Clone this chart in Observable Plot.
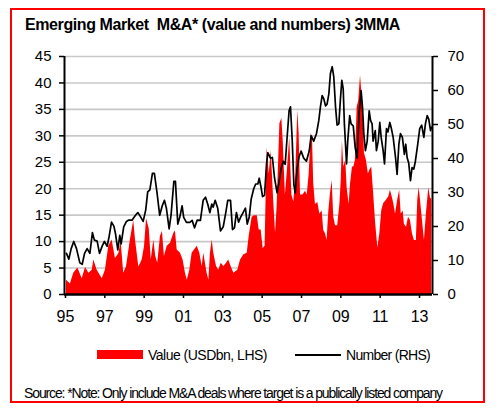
<!DOCTYPE html>
<html><head><meta charset="utf-8">
<script src="https://cdn.jsdelivr.net/npm/d3@7"></script>
<script src="https://cdn.jsdelivr.net/npm/@observablehq/plot@0.6"></script>
<style>
body{margin:0;background:#fff;font-family:"Liberation Sans",Arial,sans-serif;}
#wrap{position:relative;width:502px;height:415px;overflow:hidden;background:#fff;}
#box{position:absolute;left:10px;top:8px;width:471px;height:391px;border:2px solid #ff0000;}
.t{position:absolute;white-space:pre;line-height:1;color:#000;}
#chart{position:absolute;left:0;top:0;}
</style></head>
<body><div id="wrap">
<div id="box"></div>
<div id="chart"></div>
<div class="t" id="title" style="left:25px;top:17px;font-size:16px;font-weight:bold;"></div>
<div id="legRect" style="position:absolute;left:97px;top:350px;width:46px;height:9px;background:#ff0000;"></div>
<div class="t" id="leg1" style="left:148px;top:348px;font-size:14px;"></div>
<div id="legLine" style="position:absolute;left:295px;top:354px;width:46px;height:1.5px;background:#000;"></div>
<div class="t" id="leg2" style="left:346px;top:348px;font-size:14px;"></div>
<div class="t" id="source" style="left:24px;top:386px;font-size:14px;"></div>
</div>
<script>
const titleText = "Emerging Market  M&A* (value and numbers) 3MMA";
const legendValue = "Value (USDbn, LHS)";
const legendNumber = "Number (RHS)";
const sourceText = "Source: *Note: Only include M&A deals where target is a publically listed company";

const xTicks = [1995,1997,1999,2001,2003,2005,2007,2009,2011,2013];
const xTickLabels = ["95","97","99","01","03","05","07","09","11","13"];
const leftTicks = [0,5,10,15,20,25,30,35,40,45];
const rightTicks = [0,10,20,30,40,50,60,70];

const valueYears = [1995.05,1995.25,1995.42,1995.63,1995.85,1996.02,1996.19,1996.36,1996.44,1996.61,1996.87,1997.03,1997.20,1997.37,1997.54,1997.71,1997.83,1997.96,1998.10,1998.30,1998.47,1998.56,1998.73,1998.90,1999.02,1999.12,1999.26,1999.36,1999.49,1999.59,1999.69,1999.83,1999.93,2000.03,2000.17,2000.34,2000.51,2000.59,2000.68,2000.85,2000.98,2001.10,2001.19,2001.32,2001.44,2001.56,2001.70,2001.83,2001.95,2002.03,2002.20,2002.29,2002.37,2002.46,2002.54,2002.68,2002.79,2002.92,2003.05,2003.19,2003.30,2003.42,2003.56,2003.76,2003.90,2004.07,2004.24,2004.34,2004.49,2004.61,2004.75,2004.85,2004.95,2005.05,2005.15,2005.25,2005.36,2005.46,2005.59,2005.68,2005.76,2005.90,2006.00,2006.07,2006.18,2006.27,2006.40,2006.51,2006.61,2006.71,2006.81,2006.88,2006.95,2007.08,2007.20,2007.29,2007.39,2007.49,2007.56,2007.62,2007.71,2007.83,2007.93,2008.05,2008.13,2008.22,2008.30,2008.39,2008.47,2008.56,2008.64,2008.73,2008.84,2008.95,2009.02,2009.08,2009.15,2009.25,2009.32,2009.42,2009.49,2009.59,2009.66,2009.74,2009.83,2009.91,2010.00,2010.10,2010.20,2010.30,2010.40,2010.47,2010.57,2010.67,2010.76,2010.88,2010.98,2011.08,2011.18,2011.32,2011.44,2011.52,2011.61,2011.69,2011.78,2011.89,2011.99,2012.07,2012.17,2012.23,2012.34,2012.44,2012.54,2012.64,2012.74,2012.84,2012.91,2012.98,2013.05,2013.15,2013.25,2013.35,2013.47,2013.56,2013.62];
const valueUSDbn = [2.7,2.0,4.0,5.0,3.0,5.1,4.0,4.6,6.5,4.6,3.0,4.6,9.1,10.3,6.8,7.7,10.0,4.0,5.2,10.3,14.0,10.3,5.2,6.5,9.1,14.3,12.4,6.5,10.3,7.2,5.9,11.0,11.9,7.2,9.1,9.7,11.6,12.0,8.4,7.8,6.5,4.0,2.7,4.6,7.8,8.4,9.1,7.8,5.3,7.8,4.0,2.7,7.8,10.3,7.8,5.3,4.6,5.9,5.3,5.9,6.5,5.3,4.0,4.6,6.5,7.5,7.8,11.0,14.6,14.9,14.9,12.2,12.2,8.7,9.1,27.8,22.8,27.2,17.5,11.6,16.6,32.3,33.3,29.0,18.8,22.8,29.7,18.8,17.5,22.7,34.8,30.4,18.8,18.8,19.5,18.8,22.8,30.4,29.7,21.0,17.0,17.4,15.2,15.8,12.1,11.5,10.2,15.8,19.0,21.5,14.6,13.0,13.0,17.0,21.5,29.0,24.1,25.4,20.2,17.0,20.8,24.1,24.1,25.4,35.4,36.6,41.4,36.6,26.7,25.4,22.8,23.5,24.1,19.0,13.9,8.8,11.4,15.9,17.2,17.8,18.5,19.7,18.5,17.2,15.2,17.8,19.7,15.2,15.8,13.3,12.7,14.6,14.0,11.5,10.2,10.2,17.8,20.2,17.8,14.0,10.2,15.2,20.2,18.2,18.0];

const numberYears = [1995.05,1995.17,1995.29,1995.42,1995.56,1995.73,1995.85,1995.97,1996.10,1996.24,1996.37,1996.47,1996.61,1996.73,1996.87,1996.98,1997.12,1997.22,1997.34,1997.46,1997.54,1997.66,1997.76,1997.83,1997.96,1998.10,1998.22,1998.39,1998.56,1998.68,1998.81,1998.95,1999.08,1999.18,1999.29,1999.42,1999.52,1999.66,1999.79,1999.92,2000.03,2000.13,2000.27,2000.37,2000.51,2000.59,2000.71,2000.81,2000.93,2001.01,2001.15,2001.32,2001.44,2001.56,2001.70,2001.86,2002.00,2002.12,2002.23,2002.34,2002.44,2002.51,2002.61,2002.74,2002.88,2003.02,2003.15,2003.25,2003.39,2003.49,2003.59,2003.69,2003.80,2003.90,2004.03,2004.15,2004.24,2004.34,2004.44,2004.57,2004.67,2004.78,2004.85,2004.95,2005.02,2005.12,2005.22,2005.29,2005.42,2005.52,2005.63,2005.76,2005.86,2005.97,2006.07,2006.17,2006.27,2006.37,2006.44,2006.53,2006.61,2006.68,2006.78,2006.88,2006.98,2007.11,2007.25,2007.39,2007.49,2007.62,2007.76,2007.88,2007.96,2008.05,2008.13,2008.22,2008.30,2008.39,2008.47,2008.56,2008.64,2008.73,2008.81,2008.90,2008.98,2009.05,2009.12,2009.18,2009.29,2009.35,2009.45,2009.52,2009.63,2009.73,2009.83,2009.93,2010.03,2010.10,2010.17,2010.25,2010.34,2010.44,2010.51,2010.59,2010.64,2010.75,2010.81,2010.90,2010.98,2011.05,2011.15,2011.22,2011.32,2011.39,2011.49,2011.57,2011.66,2011.78,2011.86,2011.95,2012.03,2012.13,2012.23,2012.30,2012.37,2012.45,2012.54,2012.62,2012.71,2012.79,2012.91,2013.01,2013.11,2013.22,2013.30,2013.39,2013.47,2013.56,2013.61];
const numberDeals = [12.1,10.4,13.5,15.6,13.5,9.3,8.9,12.1,13.5,12.1,18.2,16.0,15.7,12.1,14.3,15.6,14.2,17.1,21.3,20.1,18.0,13.1,17.4,14.9,19.9,21.5,21.9,21.9,23.3,24.1,22.9,21.5,24.9,30.2,30.8,35.6,35.6,29.7,23.3,26.1,27.7,25.4,19.3,23.5,33.3,33.3,20.7,22.7,26.1,22.7,21.2,21.2,21.8,19.6,21.9,21.8,27.7,28.6,26.6,24.1,26.6,25.7,27.7,25.4,18.7,19.9,24.1,27.7,27.7,19.1,19.6,24.1,21.3,22.7,24.1,25.4,20.7,22.7,28.0,31.1,32.5,32.5,34.2,31.3,28.8,29.2,38.3,41.7,40.1,40.3,34.2,29.9,33.3,37.2,39.2,38.3,46.4,54.1,55.2,45.1,32.4,29.9,37.2,40.6,42.2,40.1,39.2,42.2,46.7,45.1,47.3,51.2,55.1,58.5,57.6,55.5,56.0,59.0,65.0,67.0,64.1,55.2,49.8,50.2,57.6,63.0,60.5,50.2,38.4,45.1,52.6,50.2,49.6,43.2,40.1,53.5,60.0,55.1,47.1,42.3,45.1,54.0,51.2,50.2,45.1,48.2,42.3,45.1,50.6,46.2,42.3,38.4,48.8,47.8,50.6,48.8,46.2,40.3,35.3,44.2,47.3,46.2,41.2,44.2,40.3,38.7,33.5,37.3,36.9,39.2,44.2,48.8,49.8,46.2,50.2,52.6,51.6,48.2,49.2];

const valueData = valueYears.map((t,i)=>({t, v: valueUSDbn[i]}));
const numberData = numberYears.map((t,i)=>({t, n: numberDeals[i]}));
const R = 45/70;
const x0 = 1994.95, x1 = 2013.66;

const chart = Plot.plot({
  width: 502, height: 330,
  marginLeft: 64, marginRight: 70, marginTop: 56, marginBottom: 36,
  style: {fontFamily: '"Liberation Sans", Arial, sans-serif', fontSize: "15px", color: "#000", background: "transparent", overflow: "visible"},
  x: {domain: [x0, x1], axis: null},
  y: {domain: [0, 45], axis: null},
  marks: [
    Plot.ruleY(leftTicks.filter(d => d > 0), {stroke: "#c8c8c8", strokeWidth: 1.6}),
    Plot.areaY(valueData, {x: "t", y: "v", fill: "#ff0000"}),
    Plot.lineY(numberData, {x: "t", y: d => d.n * R, stroke: "#000", strokeWidth: 1.7}),
    Plot.ruleX([x0], {stroke: "#000", strokeWidth: 2}),
    Plot.ruleX([x1], {stroke: "#000", strokeWidth: 2}),
    Plot.ruleY([0], {stroke: "#000", strokeWidth: 2.5}),
    Plot.axisY(leftTicks, {anchor: "left", label: null, tickSize: 5, tickPadding: 8, stroke: "#000", strokeWidth: 1.5, fill: "#000", fontSize: 15}),
    Plot.axisY(rightTicks.map(n => n * R), {anchor: "right", label: null, tickSize: 5, tickPadding: 10, stroke: "#000", strokeWidth: 1.5, fill: "#000", fontSize: 15, tickFormat: d => String(Math.round(d / R))}),
    Plot.axisX(xTicks, {anchor: "bottom", label: null, tickSize: 4, tickPadding: 12, stroke: "#000", strokeWidth: 1.5, fill: "#000", fontSize: 16, tickFormat: d => xTickLabels[xTicks.indexOf(d)]})
  ]
});
document.getElementById("chart").appendChild(chart);

function setFit(id, text, w){
  const el = document.getElementById(id);
  el.textContent = text;
  const cur = el.getBoundingClientRect().width;
  el.style.letterSpacing = ((w - cur) / text.length) + "px";
}
setFit("title", titleText, 375);
setFit("leg1", legendValue, 119);
setFit("leg2", legendNumber, 84);
setFit("source", sourceText, 418);
</script>
</body></html>
